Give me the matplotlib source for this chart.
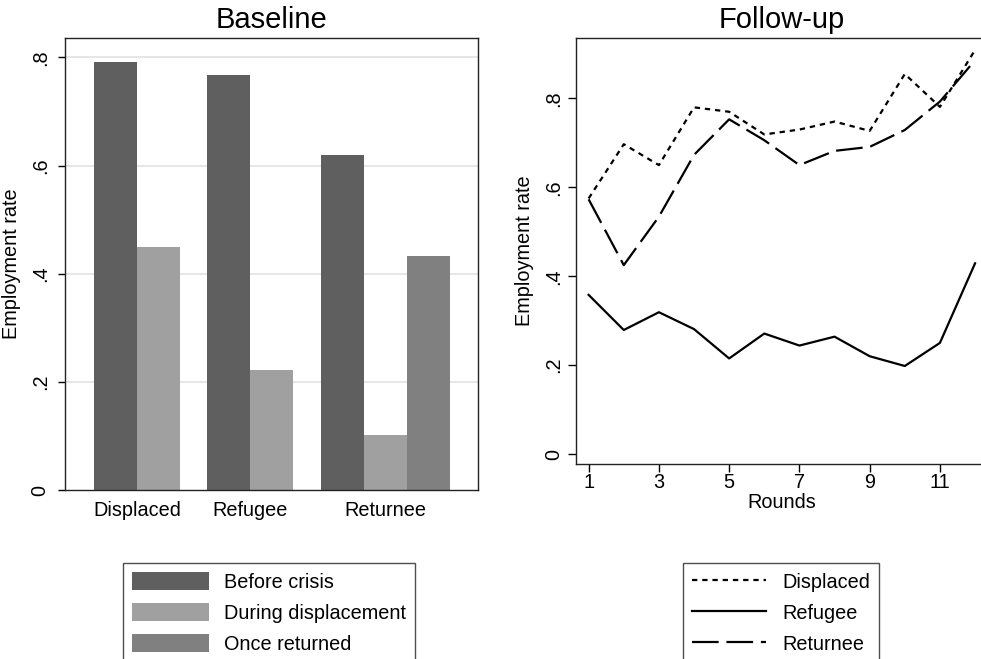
import matplotlib
matplotlib.use("Agg")
import matplotlib.pyplot as plt
from matplotlib.patches import Patch
from matplotlib.lines import Line2D
import numpy as np

plt.rcParams['font.family'] = ['Liberation Sans', 'DejaVu Sans']

# ---------------- data ----------------
groups = ["Displaced", "Refugee", "Returnee"]
bar_series = ["Before crisis", "During displacement", "Once returned"]
before_crisis = [0.791, 0.768, 0.619]
during_displacement = [0.450, 0.222, 0.102]
once_returned = [None, None, 0.433]
bar_colors = ["#5f5f5f", "#a0a0a0", "#808080"]

rounds = list(range(1, 13))
displaced = [0.575, 0.697, 0.650, 0.780, 0.770, 0.719, 0.730, 0.748, 0.727, 0.855, 0.781, 0.909]
refugee = [0.358, 0.279, 0.319, 0.281, 0.215, 0.271, 0.244, 0.264, 0.220, 0.198, 0.250, 0.429]
returnee = [0.573, 0.425, 0.534, 0.673, 0.753, 0.706, 0.650, 0.682, 0.691, 0.729, 0.793, 0.886]

yticks = [0, 0.2, 0.4, 0.6, 0.8]
ytick_labels = ["0", ".2", ".4", ".6", ".8"]
xticks_r = [1, 3, 5, 7, 9, 11]

W, H = 981, 659
fig = plt.figure(figsize=(W / 100, H / 100), dpi=100)
fig.patch.set_facecolor("white")

def px_axes(l, t, r, b):
    return fig.add_axes([l / W, 1 - b / H, (r - l) / W, (b - t) / H])

FS = 14.3
TFS = 21

# ---------------- left panel ----------------
ax1 = px_axes(65, 38, 478, 490)
group_centers = [1.674, 4.30, 7.44]
bw = 1.0
series_vals = [before_crisis, during_displacement, once_returned]
for gi, gc in enumerate(group_centers):
    present = [(si, s[gi]) for si, s in enumerate(series_vals) if s[gi] is not None]
    n = len(present)
    for k, (si, v) in enumerate(present):
        x = gc + (k - (n - 1) / 2) * bw
        ax1.bar(x, v, width=bw, color=bar_colors[si], edgecolor="none", zorder=2)
ax1.set_xlim(0, 9.6)
ax1.set_ylim(0, 0.836)
ax1.set_yticks(yticks)
ax1.set_yticklabels(ytick_labels, rotation=90, va="center", fontsize=FS)
for y in yticks[1:]:
    ax1.axhline(y, color="#e2e2e2", lw=1.2, zorder=1)
ax1.set_xticks(group_centers)
ax1.set_xticklabels(groups, fontsize=FS)
ax1.tick_params(axis="x", length=0, pad=8)
ax1.tick_params(axis="y", length=5, width=1, pad=6)
ax1.set_ylabel("Employment rate", fontsize=FS, labelpad=7)
ax1.set_title("Baseline", fontsize=TFS, pad=7)
for s in ax1.spines.values():
    s.set_color("#222222")
    s.set_linewidth(1)

# ---------------- right panel ----------------
ax2 = px_axes(576, 38, 987, 464)
lw = 1.6
ax2.plot(rounds, displaced, color="black", lw=lw, dashes=(2.4, 2.2))
ax2.plot(rounds, refugee, color="black", lw=lw)
ax2.plot(rounds, returnee, color="black", lw=lw, dashes=(12, 3.5))
ax2.set_xlim(0.64, 12.34)
ax2.set_ylim(-0.0225, 0.936)
ax2.set_yticks(yticks)
ax2.set_yticklabels(ytick_labels, rotation=90, va="center", fontsize=FS)
ax2.set_xticks(xticks_r)
ax2.set_xticklabels([str(v) for v in xticks_r], fontsize=FS)
ax2.tick_params(axis="both", length=5.5, width=1)
ax2.tick_params(axis="x", pad=1)
ax2.tick_params(axis="y", pad=4)
ax2.set_xlabel("Rounds", fontsize=FS, labelpad=1)
ax2.set_ylabel("Employment rate", fontsize=FS, labelpad=7)
ax2.set_title("Follow-up", fontsize=TFS, pad=7)
for s in ax2.spines.values():
    s.set_color("#222222")
    s.set_linewidth(1)

# ---------------- legends ----------------
handles1 = [Patch(facecolor=c, edgecolor="none") for c in bar_colors]
leg1 = fig.legend(handles1, bar_series, loc="upper left",
                  bbox_to_anchor=(123 / W, 1 - 563 / H), fontsize=FS,
                  handlelength=3.9, handleheight=1.05, handletextpad=0.75,
                  labelspacing=0.55, borderpad=0.45, borderaxespad=0,
                  frameon=True, fancybox=False)
leg1.get_frame().set_edgecolor("#222222")
leg1.get_frame().set_linewidth(1)

handles2 = [Line2D([], [], color="black", lw=lw, dashes=(2.4, 2.2)),
            Line2D([], [], color="black", lw=lw),
            Line2D([], [], color="black", lw=lw, dashes=(12, 3.5))]
leg2 = fig.legend(handles2, ["Displaced", "Refugee", "Returnee"], loc="upper left",
                  bbox_to_anchor=(683 / W, 1 - 563 / H), fontsize=FS,
                  handlelength=3.75, handleheight=1.05, handletextpad=0.8,
                  labelspacing=0.55, borderpad=0.45, borderaxespad=0,
                  frameon=True, fancybox=False)
leg2.get_frame().set_edgecolor("#222222")
leg2.get_frame().set_linewidth(1)

fig.savefig("out.png", dpi=100, facecolor="white")
